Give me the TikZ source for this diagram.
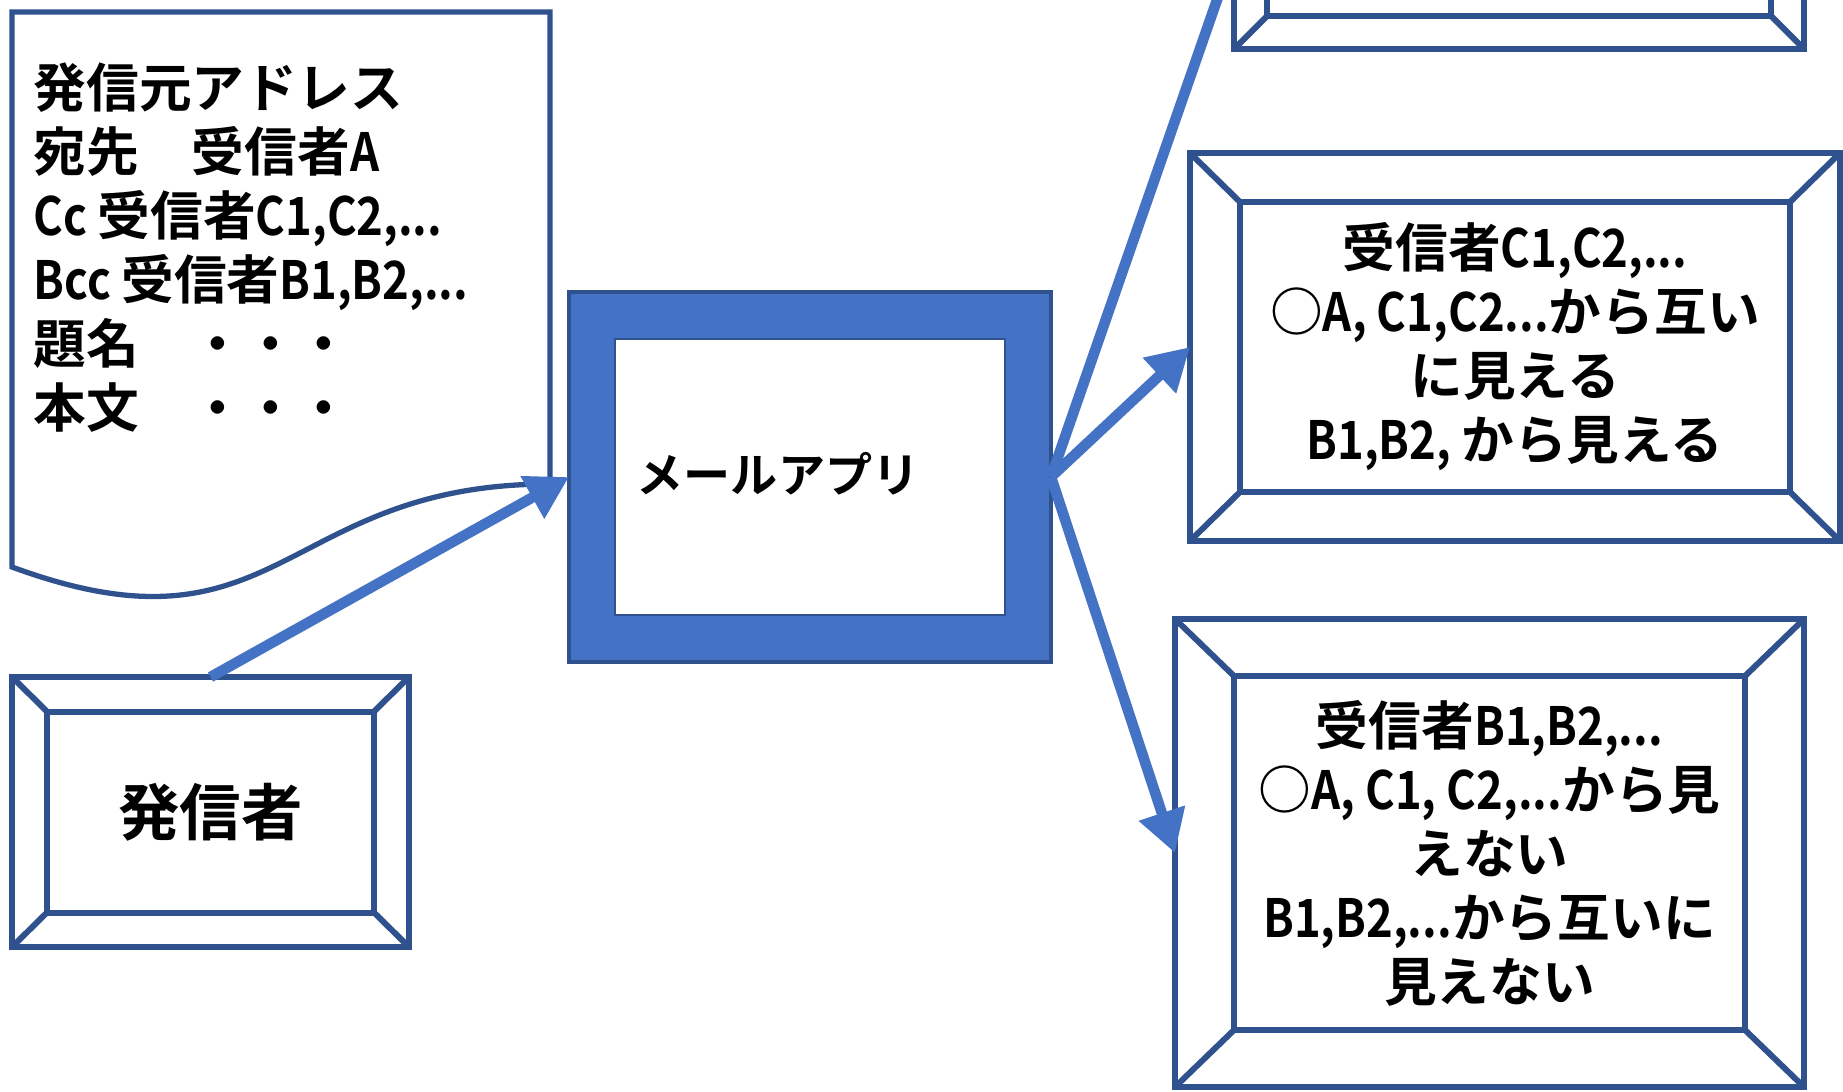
\documentclass[tikz,border=0pt]{standalone}
\usepackage{fontspec}
\usepackage{tikz}
\usetikzlibrary{arrows.meta}
\newfontfamily\jpfont{Noto Sans CJK JP}[BoldFont={Noto Sans CJK JP Bold}]
\newfontfamily\latfont{Noto Sans CJK JP}[FakeStretch=0.86, BoldFont={Noto Sans CJK JP Bold}]
\newcommand{\latn}[1]{{\latfont #1}}
\definecolor{lineblue}{HTML}{2F528F}
\definecolor{fillblue}{HTML}{4472C4}

\tikzset{
  bevelline/.style={draw=lineblue, line width=1.7pt},
  bevelbox/.style={bevelline, rectangle, outer sep=0pt, inner sep=0pt},
  docline/.style={draw=lineblue, line width=1.5pt},
  flow/.style={draw=fillblue, line width=3pt, -{Triangle[length=0.42cm, width=0.46cm]}},
  boxtext/.style={font=\jpfont\bfseries\fontsize{15pt}{18.2pt}\selectfont, align=center},
}

% inner frame and corner lines of a bevel box
\newcommand{\bevelframe}[3]{%
  \draw[bevelline] ([xshift=#2,yshift=-#3]#1.north west) rectangle ([xshift=-#2,yshift=#3]#1.south east);
  \foreach \cn/\sx/\sy in {north west/1/-1, north east/-1/-1, south west/1/1, south east/-1/1}
    \draw[bevelline] (#1.\cn) -- ([xshift=\sx*#2, yshift=\sy*#3]#1.\cn);
}

\begin{document}
\begin{tikzpicture}

    \useasboundingbox (0,0) rectangle (18.43,-10.91);
    \clip (0,0) rectangle (18.43,-10.91);
    \fill[white] (0,0) rectangle (18.43,-10.91);

    % mail
    \draw[docline] (0.12,-0.12) -- (5.50,-0.12) -- (5.50,-4.84) .. controls (2.81,-4.84) and (2.81,-6.66) .. (0.12,-5.67) -- cycle;
    \node (docinfo) [boxtext, align=left, anchor=west, inner sep=0pt] at (0.33,-2.48) {発信元アドレス\\宛先　受信者\latn{A}\\\latn{Cc }受信者\latn{C1,C2,...}\\\latn{Bcc }受信者\latn{B1,B2,...}\\題名　・・・\\本文　・・・};

    % mail app
    \node (mail) [draw=lineblue, fill=fillblue, line width=1pt, outer sep=0pt, minimum width=4.82cm, minimum height=3.70cm] at (8.10,-4.77) {};
    \draw[lineblue, fill=white, line width=0.8pt] ([xshift=0.46cm,yshift=-0.47cm]mail.north west) rectangle ([xshift=-0.46cm,yshift=0.47cm]mail.south east);
    \node (mailtext) [boxtext, font=\jpfont\bfseries\fontsize{13.4pt}{15pt}\selectfont, anchor=west, inner sep=0pt] at (6.36,-4.74) {メールアプリ};

    % sender and receivers
    \node (sender) [bevelbox, boxtext, font=\jpfont\bfseries\fontsize{17.5pt}{21pt}\selectfont, minimum width=3.97cm, minimum height=2.70cm] at (2.105,-8.12) {発信者};
    \bevelframe{sender}{0.35cm}{0.345cm}

    \node (topbox) [bevelbox, minimum width=5.70cm, minimum height=1.96cm] at (15.19,0.49) {};
    \bevelframe{topbox}{0.33cm}{0.33cm}

    \node (midbox) [bevelbox, boxtext, minimum width=6.50cm, minimum height=3.88cm] at (15.15,-3.47) {受信者\latn{C1,C2,...}\\○\latn{A, C1,C2...}から互い\\に見える\\\latn{B1,B2, }から見える};
    \bevelframe{midbox}{0.50cm}{0.49cm}

    \node (botbox) [bevelbox, boxtext, minimum width=6.29cm, minimum height=4.68cm] at (14.895,-8.53) {受信者\latn{B1,B2,...}\\○\latn{A, C1, C2,...}から見\\えない\\\latn{B1,B2,...}から互いに\\見えない};
    \bevelframe{botbox}{0.59cm}{0.57cm}

    \draw[flow] (sender.north) -- (mail.west);
    \draw[flow] (mail.east) -- (topbox.west);
    \draw[flow] (mail.east) -- (midbox.west);
    \draw[flow] (mail.east) -- (botbox.west);

\end{tikzpicture}
\end{document}
